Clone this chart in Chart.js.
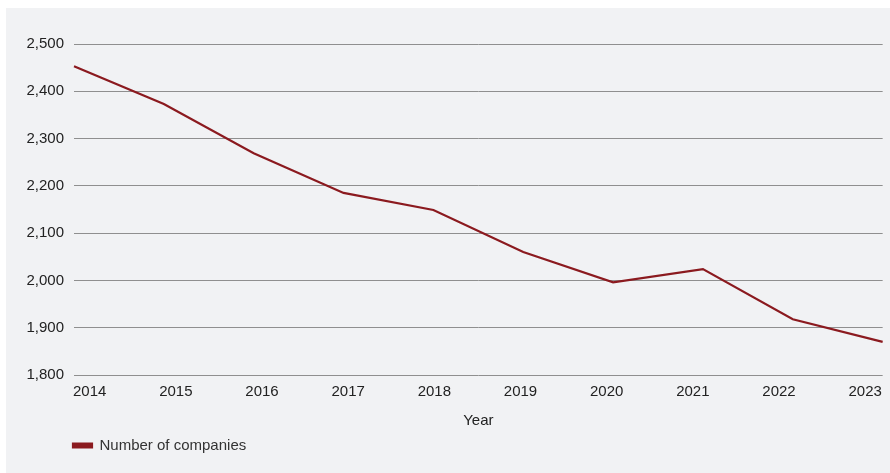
<!DOCTYPE html>
<html lang="en">
<head>
  <meta charset="UTF-8">
  <title>Number of companies</title>
  <script src="https://cdn.jsdelivr.net/npm/chart.js"></script>
  <style>
    body {
      margin: 0;
      padding: 0;
      background: #fff;
    }

    .panel {
      position: absolute;
      left: 6px;
      top: 8px;
      width: 884px;
      height: 465px;
      background: #f1f2f4;
    }

    canvas {
      display: block;
    }
  </style>
</head>
<body>
  <div class="panel">
    <canvas id="lineChart" width="884" height="465"></canvas>
  </div>

  <script>
    const years = ['2014', '2015', '2016', '2017', '2018', '2019', '2020', '2021', '2022', '2023'];
    const companies = [2453, 2373, 2269, 2185, 2149, 2060, 1996, 2024, 1918, 1870];
    const yTicks = [1800, 1900, 2000, 2100, 2200, 2300, 2400, 2500];

    const tickFont = { family: "'Liberation Sans', Arial, sans-serif", size: 15 };

    // legend sits under the y labels, not at the canvas edge
    const legendShift = {
      id: 'legendShift',
      afterLayout(chart) {
        chart.legend.left = 57;
      },
    };

    const ctx = document.getElementById('lineChart').getContext('2d');

    const lineChart = new Chart(ctx, {
      type: 'line',
      data: {
        labels: years,
        datasets: [
          {
            label: 'Number of companies',
            data: companies,
            borderColor: '#8b1a1f',
            backgroundColor: '#8b1a1f',
            borderWidth: 2.2,
            pointRadius: 0,
            tension: 0,
            fill: false,
          },
        ],
      },
      options: {
        responsive: false,
        animation: false,
        devicePixelRatio: 1,
        layout: {
          padding: { left: 0, right: 7, top: 36, bottom: 10 },
        },
        plugins: {
          legend: {
            position: 'bottom',
            align: 'start',
            labels: {
              color: '#333',
              font: tickFont,
              boxWidth: 19,
              boxHeight: 4,
              padding: 10,
            },
          },
          tooltip: { enabled: false },
        },
        scales: {
          x: {
            display: false,
          },
          // label axis: years spread evenly, first and last kept inside the plot
          xLabels: {
            type: 'linear',
            position: 'bottom',
            min: -0.182,
            max: 9.203,
            afterBuildTicks: (axis) => {
              axis.ticks = years.map((_, i) => ({ value: i }));
            },
            afterFit: (axis) => {
              axis.height = 53;
            },
            grid: { display: false, drawTicks: false },
            border: { display: false },
            ticks: {
              color: '#222',
              font: tickFont,
              padding: 8,
              maxRotation: 0,
              autoSkip: false,
              callback: (v) => years[v],
            },
            title: {
              display: true,
              text: 'Year',
              color: '#222',
              font: tickFont,
              padding: { top: 0, bottom: -2 },
            },
          },
          y: {
            min: yTicks[0],
            max: yTicks[yTicks.length - 1],
            afterBuildTicks: (axis) => {
              axis.ticks = yTicks.map((v) => ({ value: v }));
            },
            afterFit: (axis) => {
              axis.width = 68;
            },
            grid: { color: '#8f8f8f', lineWidth: 1, drawTicks: false },
            border: { display: false },
            ticks: {
              color: '#222',
              font: tickFont,
              padding: 10,
              callback: (v) => v.toLocaleString('en-US'),
            },
          },
        },
      },
      plugins: [legendShift],
    });
  </script>
</body>
</html>
